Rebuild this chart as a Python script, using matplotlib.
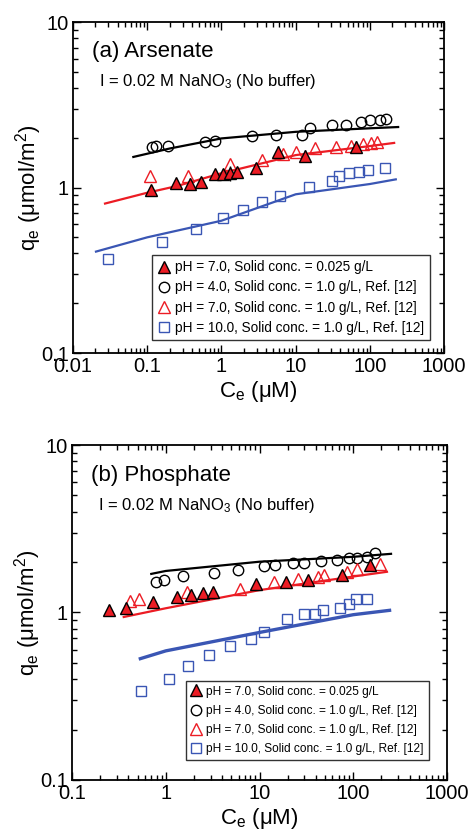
import numpy as np
import matplotlib
matplotlib.use('Agg')
import matplotlib.pyplot as plt
from matplotlib.ticker import LogLocator, NullFormatter, FixedLocator, FixedFormatter

plt.rcParams['font.family'] = ['Liberation Sans', 'DejaVu Sans']
plt.rcParams['mathtext.fontset'] = 'custom'
plt.rcParams['mathtext.rm'] = 'Liberation Sans'
plt.rcParams['mathtext.it'] = 'Liberation Sans:italic'

RED = '#ec1c24'
BLUE = '#3a56b4'

# ---- (a) Arsenate ----
a_fill_x = [0.112, 0.241, 0.376, 0.53, 0.82, 1.06, 1.30, 1.60, 2.91, 5.7, 13.3, 64.7]
a_fill_y = [0.96, 1.06, 1.05, 1.08, 1.20, 1.20, 1.22, 1.24, 1.31, 1.64, 1.56, 1.76]
a_fill_err = [0.08, 0.06, 0.08, 0.06, 0.06, 0.08, 0.10, 0.08, 0.07, 0.08, 0.08, 0.08]

a_ph4_x = [0.115, 0.130, 0.192, 0.60, 0.82, 2.6, 5.4, 12.0, 15.5, 31, 48, 75, 100, 136, 167]
a_ph4_y = [1.76, 1.78, 1.78, 1.88, 1.91, 2.04, 2.07, 2.09, 2.29, 2.40, 2.40, 2.49, 2.55, 2.55, 2.61]

a_ph7_x = [0.109, 0.357, 1.30, 3.47, 6.8, 10.1, 18.1, 34.8, 54.8, 81, 102, 123]
a_ph7_y = [1.17, 1.17, 1.38, 1.46, 1.60, 1.64, 1.73, 1.76, 1.77, 1.82, 1.86, 1.88]

a_ph10_x = [0.030, 0.160, 0.449, 1.04, 1.97, 3.54, 6.1, 15.2, 31.3, 38.5, 52.6, 71.7, 92.9, 159]
a_ph10_y = [0.37, 0.47, 0.56, 0.65, 0.73, 0.82, 0.89, 1.01, 1.10, 1.17, 1.22, 1.24, 1.27, 1.31]

a_fit4_x = [0.065, 0.2, 1, 10, 100, 240]
a_fit4_y = [1.53, 1.72, 1.98, 2.17, 2.28, 2.32]
a_fit7_x = [0.027, 0.1, 0.25, 1, 10, 100, 212]
a_fit7_y = [0.80, 0.93, 1.02, 1.22, 1.57, 1.78, 1.86]
a_fit10_x = [0.0204, 0.1, 1, 10, 100, 223]
a_fit10_y = [0.41, 0.50, 0.63, 0.91, 1.05, 1.12]

# ---- (b) Phosphate ----
b_fill_x = [0.246, 0.380, 0.731, 1.32, 1.87, 2.48, 3.17, 9.25, 19.3, 32.6, 75.9, 152]
b_fill_y = [1.04, 1.06, 1.16, 1.23, 1.28, 1.30, 1.32, 1.47, 1.53, 1.56, 1.67, 1.92]
b_fill_err = [0.06, 0.08, 0.07, 0.07, 0.08, 0.06, 0.06, 0.06, 0.06, 0.06, 0.08, 0.08]

b_ph4_x = [0.787, 0.95, 1.51, 3.25, 5.85, 11.1, 14.8, 22.8, 30.1, 45.3, 67.1, 90.8, 110, 140, 172]
b_ph4_y = [1.53, 1.56, 1.65, 1.71, 1.79, 1.90, 1.92, 1.97, 1.97, 2.03, 2.06, 2.11, 2.11, 2.14, 2.26]

b_ph7_x = [0.412, 0.514, 1.69, 6.14, 14.4, 25.5, 41.7, 48.4, 85.8, 111, 191]
b_ph7_y = [1.17, 1.20, 1.33, 1.38, 1.53, 1.58, 1.64, 1.67, 1.75, 1.81, 1.94]

b_ph10_x = [0.545, 1.07, 1.71, 2.87, 4.81, 8.11, 11.1, 19.6, 30.1, 39.4, 47.2, 71.6, 89.3, 108, 140]
b_ph10_y = [0.34, 0.40, 0.48, 0.56, 0.63, 0.69, 0.76, 0.91, 0.98, 0.98, 1.03, 1.07, 1.12, 1.20, 1.20]

b_fit4_x = [0.70, 1, 10, 100, 253]
b_fit4_y = [1.70, 1.77, 2.01, 2.15, 2.24]
b_fit7_x = [0.356, 1, 10, 100, 229]
b_fit7_y = [0.94, 1.06, 1.36, 1.64, 1.75]
b_fit10_x = [0.535, 1, 10, 100, 244]
b_fit10_y = [0.53, 0.59, 0.76, 0.97, 1.03]

labels = ['pH = 7.0, Solid conc. = 0.025 g/L',
          'pH = 4.0, Solid conc. = 1.0 g/L, Ref. [12]',
          'pH = 7.0, Solid conc. = 1.0 g/L, Ref. [12]',
          'pH = 10.0, Solid conc. = 1.0 g/L, Ref. [12]']


def draw_panel(ax, d, xlim, xticks, title, legend_anchor, legend_fs, legend_sp, blue_lw, xpad):
    ax.set_xscale('log')
    ax.set_yscale('log')
    # fit lines
    ax.plot(d['fit4'][0], d['fit4'][1], color='black', lw=1.6, zorder=2)
    ax.plot(d['fit7'][0], d['fit7'][1], color=RED, lw=1.6, zorder=2)
    ax.plot(d['fit10'][0], d['fit10'][1], color=BLUE, lw=blue_lw, zorder=2)
    # data
    h4, = ax.plot(d['ph4'][0], d['ph4'][1], 'o', ms=7.5, mfc='none', mec='black', mew=1.0, zorder=3)
    h7, = ax.plot(d['ph7'][0], d['ph7'][1], '^', ms=8.5, mfc='none', mec=RED, mew=1.0, zorder=3)
    h10, = ax.plot(d['ph10'][0], d['ph10'][1], 's', ms=7.5, mfc='none', mec=BLUE, mew=1.0, zorder=3)
    ax.errorbar(d['fill'][0], d['fill'][1], yerr=np.array(d['fill'][2]) * np.array(d['fill'][1]),
                fmt='none', ecolor='black', elinewidth=1.0, capsize=0, zorder=3)
    hf, = ax.plot(d['fill'][0], d['fill'][1], '^', ms=8.5, mfc=RED, mec='black', mew=1.0, zorder=4)

    ax.set_xlim(*xlim)
    ax.set_ylim(0.1, 10)
    ax.xaxis.set_major_locator(FixedLocator(xticks))
    ax.xaxis.set_major_formatter(FixedFormatter([('%g' % t) for t in xticks]))
    ax.yaxis.set_major_locator(FixedLocator([0.1, 1, 10]))
    ax.yaxis.set_major_formatter(FixedFormatter(['0.1', '1', '10']))
    ax.xaxis.set_minor_locator(LogLocator(base=10, subs=np.arange(2, 10)))
    ax.yaxis.set_minor_locator(LogLocator(base=10, subs=np.arange(2, 10)))
    ax.xaxis.set_minor_formatter(NullFormatter())
    ax.yaxis.set_minor_formatter(NullFormatter())
    ax.tick_params(which='both', direction='in', top=True, right=True, width=1.0)
    ax.tick_params(which='major', length=6, labelsize=14.5, pad=3)
    ax.tick_params(which='minor', length=3.5)
    for s in ax.spines.values():
        s.set_linewidth(1.3)

    ax.set_xlabel(r'C$_\mathregular{e}$ ($\mathregular{\mu}$M)', fontsize=16, labelpad=xpad)
    ax.set_ylabel(r'q$_\mathregular{e}$ ($\mathregular{\mu}$mol/m$^\mathregular{2}$)', fontsize=16, labelpad=-2)

    ax.text(0.05, 0.91, title, transform=ax.transAxes, fontsize=16, va='center', ha='left')
    ax.text(0.07, 0.82, r'I = 0.02 M NaNO$_\mathregular{3}$ (No buffer)', transform=ax.transAxes,
            fontsize=12, va='center', ha='left')

    leg = ax.legend([hf, h4, h7, h10], labels, loc='lower left', bbox_to_anchor=legend_anchor,
                    fontsize=legend_fs, frameon=True, fancybox=False, edgecolor='black',
                    handlelength=0.9, handletextpad=0.4, borderpad=0.4, labelspacing=legend_sp,
                    borderaxespad=0)
    leg.get_frame().set_linewidth(1.0)


fig = plt.figure(figsize=(4.71, 8.31), dpi=100)
ax1 = fig.add_axes([0.155, 0.5752, 0.788, 0.3983])
ax2 = fig.add_axes([0.153, 0.0614, 0.796, 0.4031])

da = {'fill': (a_fill_x, a_fill_y, a_fill_err), 'ph4': (a_ph4_x, a_ph4_y),
      'ph7': (a_ph7_x, a_ph7_y), 'ph10': (a_ph10_x, a_ph10_y),
      'fit4': (a_fit4_x, a_fit4_y), 'fit7': (a_fit7_x, a_fit7_y), 'fit10': (a_fit10_x, a_fit10_y)}
db = {'fill': (b_fill_x, b_fill_y, b_fill_err), 'ph4': (b_ph4_x, b_ph4_y),
      'ph7': (b_ph7_x, b_ph7_y), 'ph10': (b_ph10_x, b_ph10_y),
      'fit4': (b_fit4_x, b_fit4_y), 'fit7': (b_fit7_x, b_fit7_y), 'fit10': (b_fit10_x, b_fit10_y)}

draw_panel(ax1, da, (0.01, 1000), [0.01, 0.1, 1, 10, 100, 1000], '(a) Arsenate',
           (0.213, 0.039), 9.8, 0.45, 1.6, 2)
draw_panel(ax2, db, (0.1, 1000), [0.1, 1, 10, 100, 1000], '(b) Phosphate',
           (0.304, 0.060), 8.6, 0.6, 2.4, 2)

fig.savefig('out.png', dpi=100)
